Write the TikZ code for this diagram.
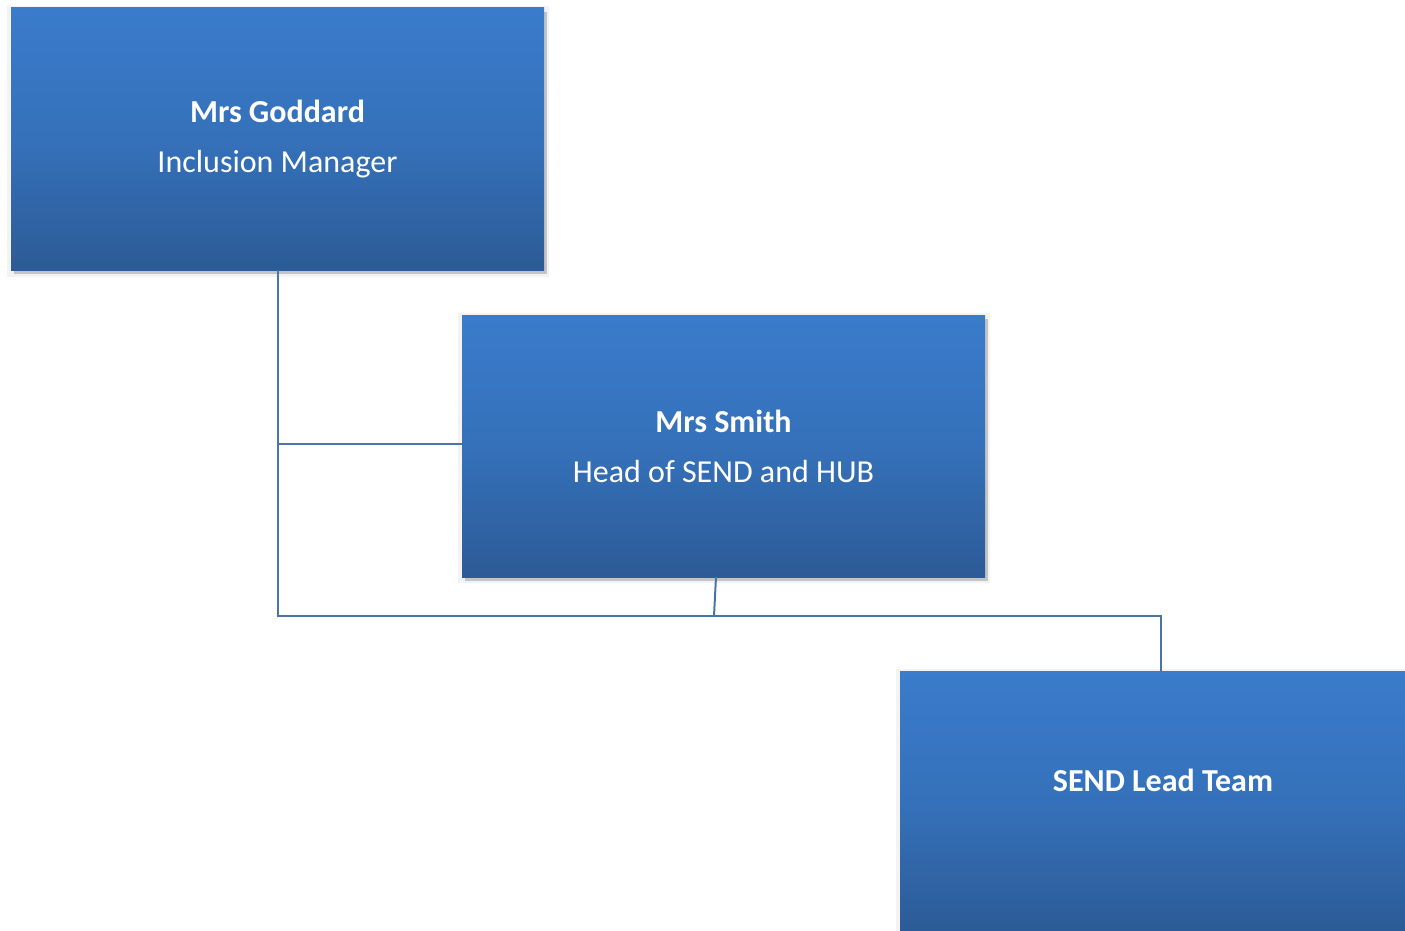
\documentclass[tikz,border=0pt]{standalone}
\usepackage{fontspec}
\setmainfont{Carlito}
\definecolor{boxtop}{HTML}{3A7BCB}
\definecolor{boxmid}{HTML}{3571BA}
\definecolor{boxbot}{HTML}{2C5B96}
\definecolor{linecol}{HTML}{4A74A8}
\definecolor{shadowcol}{HTML}{C4C4C4}
\definecolor{halocol}{HTML}{F3F3F3}
\tikzset{
  orgbox/.style={rectangle, inner sep=0pt, top color=boxtop, bottom color=boxbot, middle color=boxmid,
    text=white, align=center, font=\fontsize{32}{50}\selectfont,
    minimum width=#1},
  boxtext/.style={inner sep=0pt, text=white, align=center, font=\fontsize{32}{50}\selectfont},
  conn/.style={draw=linecol, line width=2pt},
}
\begin{document}
\begin{tikzpicture}[x=1pt,y=-1pt]
\clip (0,0) rectangle (1405,931);
% shadows
\fill[halocol] (7,6) rectangle (549,277);
\fill[shadowcol] (14,12) rectangle (547,274);
\fill[halocol] (458,313) rectangle (990,583);
\fill[shadowcol] (465,319) rectangle (988,581);
\fill[halocol] (896,669) rectangle (1405,931);
% boxes
\node[orgbox=533pt, minimum height=262pt] (goddard) at (277.5,139)
  {\textbf{Mrs Goddard}\\Inclusion Manager};
\node[orgbox=523pt, minimum height=262pt] (smith) at (723.5,446)
  {\textbf{Mrs Smith}\\Head of SEND and HUB};
\node[orgbox=526pt, minimum height=262pt] (team) at (1163,802) {};
\node[boxtext] (teamtext) at (1163,780) {\textbf{SEND Lead Team}};
% connectors
\coordinate (jA) at (278,616);
\coordinate (jB) at (1161,616);
\coordinate (jS) at (278,444);
\coordinate (jM) at (714,616);
\draw[conn] (goddard.south -| jA) -- (jA) -- (jB) -- (jB |- team.north);
\draw[conn] (jS) -- (jS -| smith.west);
\draw[conn] (716,577) -- (jM);
\end{tikzpicture}
\end{document}
